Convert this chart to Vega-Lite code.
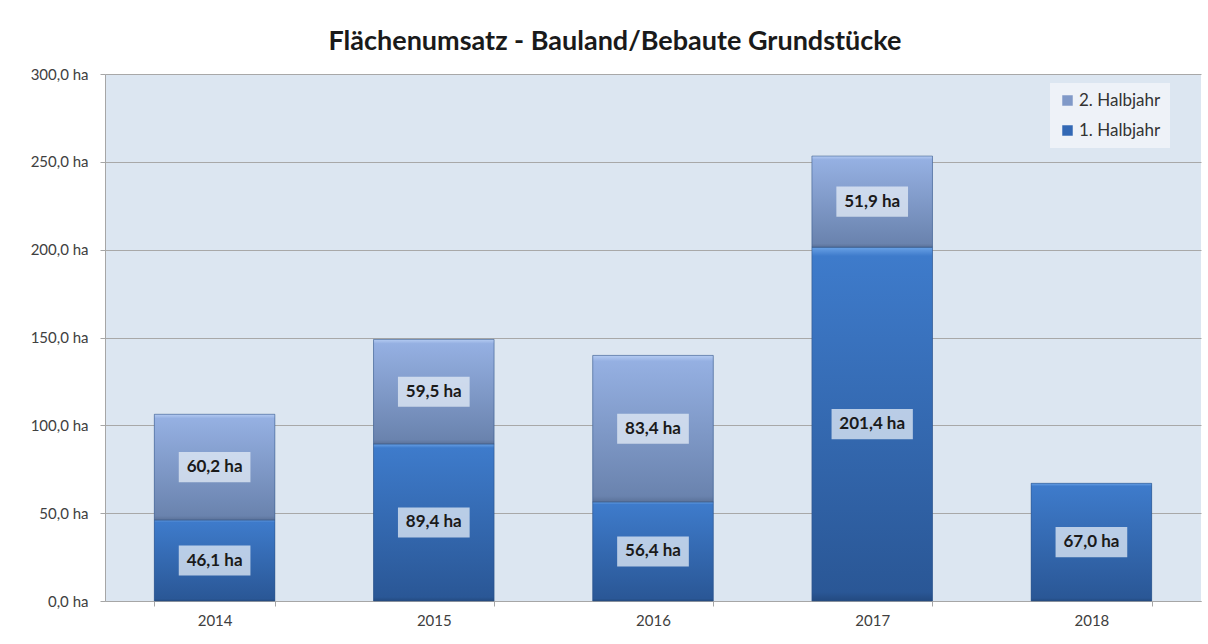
{
  "$schema": "https://vega.github.io/schema/vega-lite/v6.json",
  "width": 1096,
  "height": 527,
  "autosize": {"type": "none"},
  "padding": {"left": 105, "top": 74, "right": 7, "bottom": 43},
  "background": "white",
  "title": {
    "text": "Flächenumsatz - Bauland/Bebaute Grundstücke",
    "anchor": "middle",
    "fontSize": 27,
    "font": "Lato",
    "fontWeight": "bold",
    "color": "#1a1a1a",
    "offset": 11,
    "dx": -38
  },
  "config": {
    "font": "Lato",
    "locale": {
      "number": {"decimal": ",", "thousands": ".", "grouping": [3], "currency": ["", " ha"]}
    },
    "view": {"fill": "#dce6f1", "stroke": null}
  },
  "data": {
    "values": [
      {"Jahr": "2014", "Halbjahr": "1. Halbjahr", "Wert": 46.1},
      {"Jahr": "2014", "Halbjahr": "2. Halbjahr", "Wert": 60.2},
      {"Jahr": "2015", "Halbjahr": "1. Halbjahr", "Wert": 89.4},
      {"Jahr": "2015", "Halbjahr": "2. Halbjahr", "Wert": 59.5},
      {"Jahr": "2016", "Halbjahr": "1. Halbjahr", "Wert": 56.4},
      {"Jahr": "2016", "Halbjahr": "2. Halbjahr", "Wert": 83.4},
      {"Jahr": "2017", "Halbjahr": "1. Halbjahr", "Wert": 201.4},
      {"Jahr": "2017", "Halbjahr": "2. Halbjahr", "Wert": 51.9},
      {"Jahr": "2018", "Halbjahr": "1. Halbjahr", "Wert": 67.0}
    ]
  },
  "encoding": {
    "x": {
      "field": "Jahr",
      "type": "nominal",
      "scale": {"paddingInner": 0.45, "paddingOuter": 0.225},
      "axis": {
        "title": null,
        "labelAngle": 0,
        "labelFontSize": 15,
        "labelColor": "#404040",
        "labelPadding": 7,
        "domainColor": "#a6a6a6",
        "tickColor": "#a6a6a6",
        "tickSize": 5,
        "tickBand": "extent"
      }
    },
    "y": {
      "field": "Wert",
      "type": "quantitative",
      "stack": "zero",
      "scale": {"domain": [0, 300], "nice": false},
      "axis": {
        "title": null,
        "values": [0, 50, 100, 150, 200, 250, 300],
        "format": "$.1f",
        "labelFontSize": 15,
        "labelColor": "#404040",
        "labelPadding": 12,
        "domainColor": "#a6a6a6",
        "tickColor": "#a6a6a6",
        "tickSize": 5,
        "gridColor": "#a8a8a8",
        "gridWidth": 1
      }
    },
    "order": {"field": "Halbjahr", "sort": "ascending"}
  },
  "layer": [
    {
      "mark": {"type": "bar"},
      "encoding": {
        "color": {
          "field": "Halbjahr",
          "type": "nominal",
          "scale": {"domain": ["2. Halbjahr", "1. Halbjahr"], "range": ["#8099c8", "#3268b5"]},
          "legend": {
            "title": null,
            "orient": "none",
            "legendX": 945,
            "legendY": 9,
            "fillColor": "#eef2f8",
            "padding": 9,
            "symbolType": "square",
            "symbolSize": 110,
            "symbolStrokeWidth": 0,
            "labelFontSize": 17,
            "labelColor": "#333333",
            "labelOffset": 3,
            "rowPadding": 12
          }
        }
      }
    },
    {
      "mark": {"type": "bar", "stroke": "#2b4f82", "strokeWidth": 1, "strokeOpacity": 0.5},
      "encoding": {
        "fill": {
          "condition": {
            "test": "datum.Halbjahr === '1. Halbjahr'",
            "value": {
              "gradient": "linear", "x1": 0, "y1": 0, "x2": 0, "y2": 1,
              "stops": [
                {"offset": 0, "color": "#6aa2e6"},
                {"offset": 0.025, "color": "#3e7bcb"},
                {"offset": 0.975, "color": "#2a5796"},
                {"offset": 1, "color": "#234a80"}
              ]
            }
          },
          "value": {
            "gradient": "linear", "x1": 0, "y1": 0, "x2": 0, "y2": 1,
            "stops": [
              {"offset": 0, "color": "#b4cbf2"},
              {"offset": 0.04, "color": "#95b0e2"},
              {"offset": 0.96, "color": "#6a83ae"},
              {"offset": 1, "color": "#5b7299"}
            ]
          }
        }
      }
    },
    {
      "mark": {"type": "point", "filled": true, "strokeWidth": 0, "size": 4096, "opacity": 0.75, "color": "#e6edf7"},
      "encoding": {
        "y": {"field": "Wert", "type": "quantitative", "stack": "zero", "bandPosition": 0.5},
        "shape": {
          "condition": {"test": "datum.Wert >= 100", "value": "M-1.27,-0.47L1.27,-0.47L1.27,0.47L-1.27,0.47Z"},
          "value": "M-1.12,-0.47L1.12,-0.47L1.12,0.47L-1.12,0.47Z"
        }
      }
    },
    {
      "mark": {"type": "text", "fontSize": 17, "fontWeight": "bold", "color": "#1a1a1a", "baseline": "middle"},
      "encoding": {
        "y": {"field": "Wert", "type": "quantitative", "stack": "zero", "bandPosition": 0.5},
        "text": {"field": "Wert", "type": "quantitative", "format": "$.1f"}
      }
    }
  ]
}
